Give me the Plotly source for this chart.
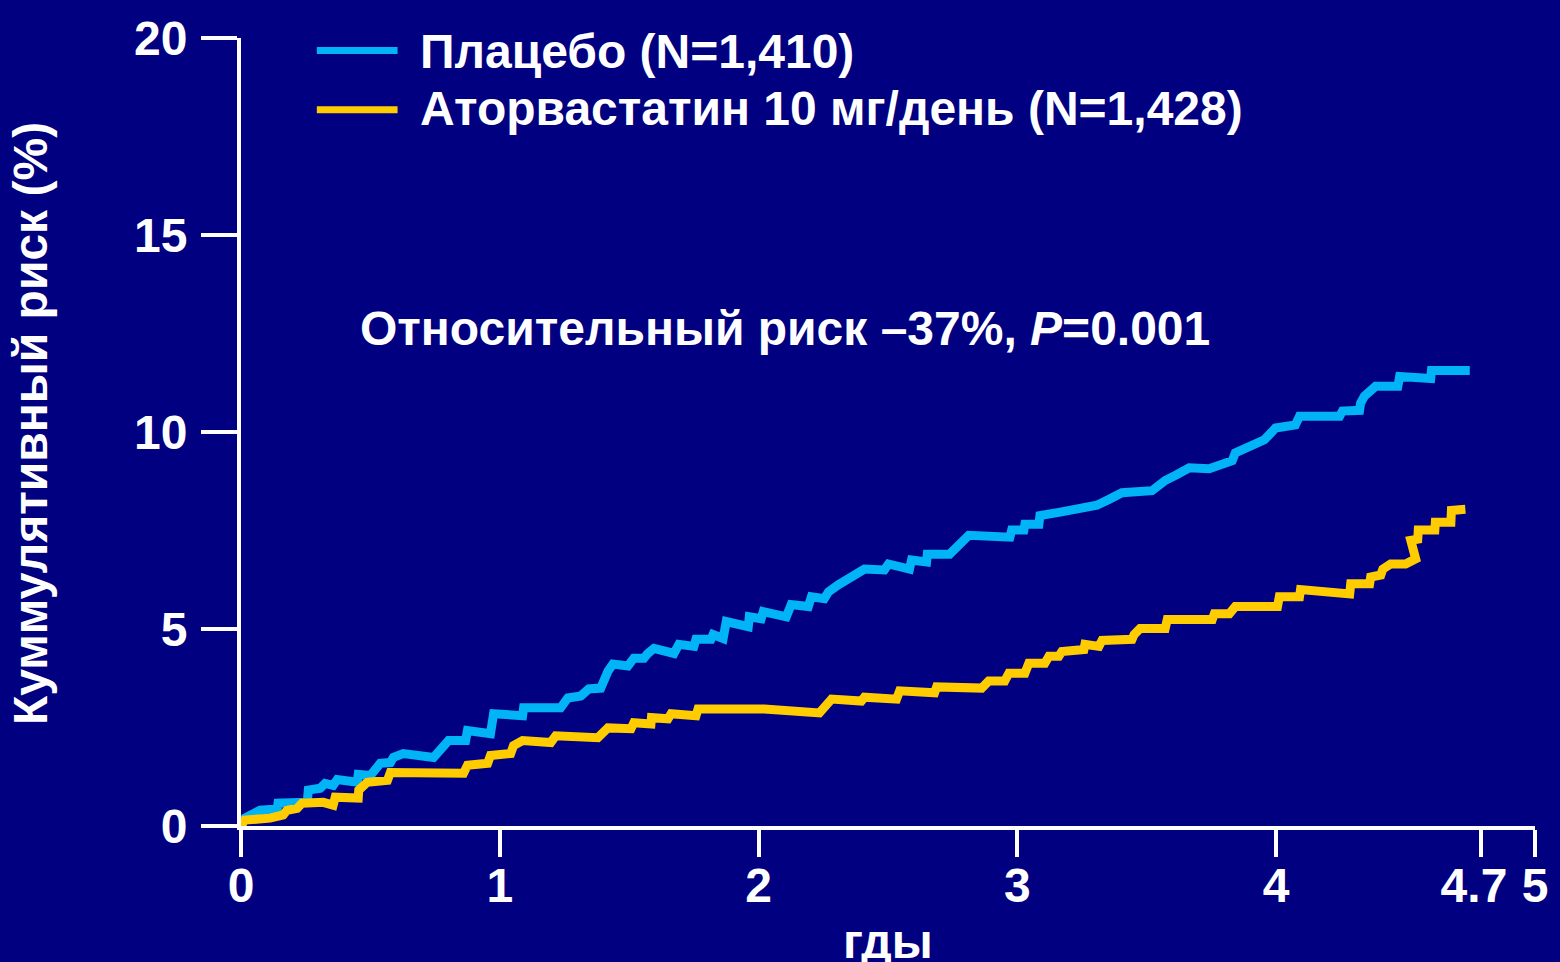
import plotly.graph_objects as go

# ---------------- data ----------------
PLACEBO_NAME = "Плацебо (N=1,410)"
ATORVA_NAME = "Аторвастатин 10 мг/день (N=1,428)"

placebo_t = [0.0, 0.015, 0.074, 0.140, 0.143, 0.256, 0.260, 0.306, 0.325, 0.356,
             0.372, 0.449, 0.453, 0.500, 0.538, 0.577, 0.589, 0.627, 0.744, 0.778,
             0.802, 0.868, 0.875, 0.964, 0.976, 1.088, 1.092, 1.235, 1.263, 1.313,
             1.344, 1.390, 1.402, 1.418, 1.437, 1.495, 1.518, 1.557, 1.572, 1.596,
             1.673, 1.692, 1.750, 1.758, 1.816, 1.824, 1.863, 1.875, 1.960, 1.964,
             2.010, 2.018, 2.107, 2.126, 2.192, 2.204, 2.254, 2.270, 2.308, 2.359,
             2.409, 2.486, 2.502, 2.583, 2.591, 2.649, 2.652, 2.738, 2.812, 2.971,
             2.978, 3.025, 3.029, 3.083, 3.087, 3.160, 3.242, 3.307, 3.354, 3.404,
             3.520, 3.571, 3.617, 3.664, 3.741, 3.830, 3.842, 3.888, 3.919, 3.954,
             3.997, 4.074, 4.090, 4.245, 4.256, 4.322, 4.326, 4.341, 4.384, 4.470,
             4.477, 4.597, 4.600, 4.748]
placebo_risk = [0.00, 0.20, 0.40, 0.43, 0.58, 0.60, 0.91, 0.96, 1.08, 1.03,
                1.18, 1.11, 1.31, 1.28, 1.59, 1.61, 1.74, 1.84, 1.74, 1.99,
                2.17, 2.17, 2.42, 2.34, 2.85, 2.80, 3.00, 3.00, 3.25, 3.30,
                3.48, 3.50, 3.75, 3.93, 4.11, 4.06, 4.26, 4.26, 4.38, 4.51,
                4.38, 4.61, 4.56, 4.74, 4.74, 4.86, 4.76, 5.19, 5.06, 5.31,
                5.26, 5.44, 5.31, 5.62, 5.57, 5.82, 5.77, 5.94, 6.12, 6.32,
                6.52, 6.50, 6.65, 6.52, 6.75, 6.70, 6.90, 6.90, 7.38, 7.33,
                7.51, 7.51, 7.66, 7.66, 7.88, 7.96, 8.09, 8.14, 8.29, 8.46,
                8.51, 8.77, 8.92, 9.09, 9.07, 9.27, 9.47, 9.60, 9.67, 9.80,
                10.10, 10.18, 10.40, 10.40, 10.53, 10.55, 10.73, 10.91, 11.16, 11.16,
                11.41, 11.36, 11.56, 11.56]

atorva_t = [0.0, 0.015, 0.112, 0.163, 0.178, 0.217, 0.236, 0.318, 0.356, 0.364,
            0.453, 0.455, 0.488, 0.566, 0.577, 0.860, 0.875, 0.953, 0.964, 1.042,
            1.053, 1.088, 1.197, 1.216, 1.379, 1.418, 1.507, 1.518, 1.584, 1.586,
            1.650, 1.662, 1.758, 1.766, 2.022, 2.235, 2.282, 2.397, 2.409, 2.533,
            2.545, 2.680, 2.688, 2.862, 2.889, 2.951, 2.967, 3.029, 3.044, 3.106,
            3.122, 3.160, 3.172, 3.257, 3.261, 3.315, 3.327, 3.443, 3.451, 3.474,
            3.571, 3.579, 3.753, 3.761, 3.819, 3.842, 4.005, 4.012, 4.090, 4.094,
            4.284, 4.288, 4.361, 4.365, 4.404, 4.412, 4.442, 4.500, 4.539, 4.520,
            4.547, 4.549, 4.613, 4.615, 4.675, 4.677, 4.731]
atorva_risk = [0.00, 0.15, 0.20, 0.28, 0.40, 0.45, 0.58, 0.60, 0.53, 0.73,
               0.71, 0.91, 1.11, 1.16, 1.36, 1.34, 1.54, 1.59, 1.79, 1.84,
               2.04, 2.17, 2.12, 2.29, 2.24, 2.49, 2.47, 2.62, 2.59, 2.75,
               2.72, 2.85, 2.80, 2.97, 2.97, 2.87, 3.22, 3.17, 3.27, 3.22,
               3.43, 3.38, 3.53, 3.50, 3.68, 3.68, 3.88, 3.88, 4.13, 4.13,
               4.31, 4.31, 4.43, 4.48, 4.61, 4.56, 4.71, 4.74, 4.86, 5.01,
               5.01, 5.24, 5.24, 5.39, 5.39, 5.57, 5.57, 5.82, 5.82, 6.00,
               5.89, 6.15, 6.15, 6.32, 6.37, 6.52, 6.65, 6.65, 6.78, 7.25,
               7.28, 7.51, 7.51, 7.71, 7.71, 8.01, 8.04]

X_TICK_POS = [0, 1, 2, 3, 4, 4.79, 5]
X_TICK_TEXT = ["0", "1", "2", "3", "4", "4.7\u00a0", "5"]
Y_TICK_POS = [0, 5, 10, 15, 20]
Y_TICK_TEXT = ["0", "5", "10", "15", "20"]

X_TITLE = "гды"
Y_TITLE = "Куммулятивный риск (%)"
NOTE = "Относительный риск –37%, <i>P</i>=0.001"

# ---------------- style ----------------
BG = "#000080"
BLUE = "#00B4F5"
YELLOW = "#FFCC00"
WHITE = "#FFFFFF"
FONT = "Liberation Sans, Arial, Helvetica, sans-serif"
FS = 48

fig = go.Figure()
fig.add_trace(go.Scatter(x=placebo_t, y=placebo_risk, mode="lines",
                         line=dict(color=BLUE, width=9), name=PLACEBO_NAME,
                         showlegend=False, hoverinfo="skip"))
fig.add_trace(go.Scatter(x=atorva_t, y=atorva_risk, mode="lines",
                         line=dict(color=YELLOW, width=9), name=ATORVA_NAME,
                         showlegend=False, hoverinfo="skip"))

# custom legend (long line samples as in the original)
legend_items = [(PLACEBO_NAME, BLUE, 0.984, 0.983), (ATORVA_NAME, YELLOW, 0.909, 0.911)]
for name, col, ly, ty in legend_items:
    fig.add_shape(type="line", xref="paper", yref="paper",
                  x0=0.0586, x1=0.1210, y0=ly, y1=ly,
                  line=dict(color=col, width=7))
    fig.add_annotation(xref="paper", yref="paper", x=0.1365, y=ty,
                       text=name, showarrow=False, xanchor="left", yanchor="middle",
                       font=dict(family=FONT, size=FS, color=WHITE, weight="bold"))

fig.add_annotation(xref="paper", yref="paper", x=0.0902, y=0.631, text=NOTE,
                   showarrow=False, xanchor="left", yanchor="middle",
                   font=dict(family=FONT, size=FS, color=WHITE, weight="bold"))

# axis titles
fig.add_annotation(xref="paper", yref="paper", x=-0.1625, y=0.511, text=Y_TITLE,
                   textangle=-90, showarrow=False, xanchor="center", yanchor="middle",
                   font=dict(family=FONT, size=FS, color=WHITE, weight="bold"))
fig.add_annotation(xref="paper", yref="paper", x=0.5, y=-0.1108, text=X_TITLE,
                   showarrow=False, xanchor="center", yanchor="top",
                   font=dict(family=FONT, size=FS, color=WHITE, weight="bold"))

fig.update_layout(
    width=1560, height=962,
    paper_bgcolor=BG, plot_bgcolor=BG,
    margin=dict(l=241, r=24, t=30, b=136),
    showlegend=False,
)
fig.update_xaxes(range=[0, 5], showgrid=False, zeroline=False,
                 showline=True, linecolor=WHITE, linewidth=4,
                 ticks="outside", ticklen=27, tickwidth=4, tickcolor=WHITE,
                 tickvals=X_TICK_POS, ticktext=X_TICK_TEXT, tickangle=0,
                 tickfont=dict(family=FONT, size=FS, color=WHITE, weight="bold"),
                 ticklabelstandoff=-13)
fig.update_yaxes(range=[0, 20], showgrid=False, zeroline=False,
                 showline=True, linecolor=WHITE, linewidth=4,
                 ticks="outside", ticklen=36, tickwidth=4, tickcolor=WHITE,
                 tickvals=Y_TICK_POS, ticktext=Y_TICK_TEXT,
                 tickfont=dict(family=FONT, size=FS, color=WHITE, weight="bold"),
                 ticklabelstandoff=4)

fig.write_html("out.html", config={"displayModeBar": False},
               post_script="document.body.style.margin='0';document.body.style.background='#000080';")
